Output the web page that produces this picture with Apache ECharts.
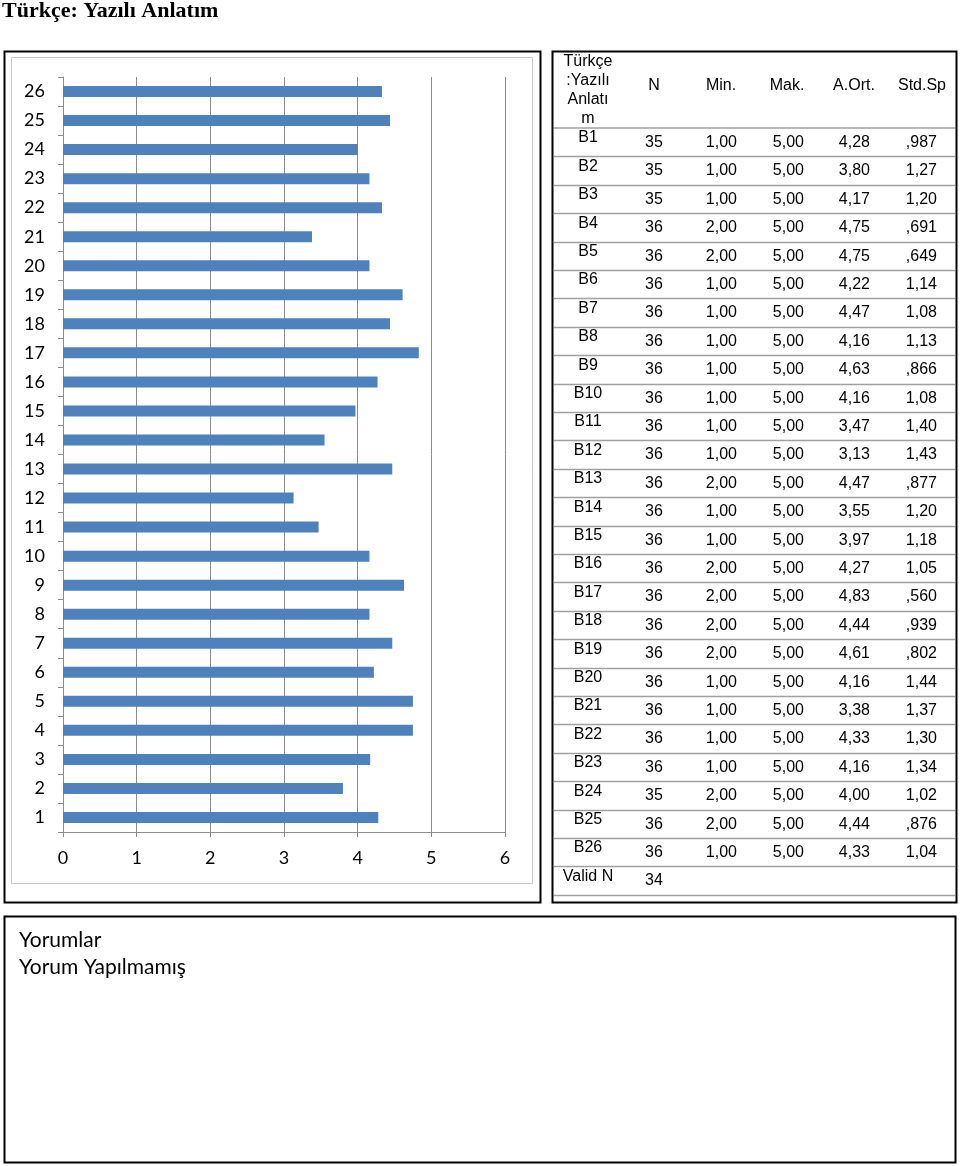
<!DOCTYPE html>
<html>
<head>
<meta charset="utf-8">
<script src="https://cdn.jsdelivr.net/npm/echarts@6/dist/echarts.min.js"></script>
<style>
html,body{margin:0;padding:0;background:#fff;}
#c{width:960px;height:1166px;}
</style>
</head>
<body>
<div id="c"></div>
<script>
const categories = ['1','2','3','4','5','6','7','8','9','10','11','12','13','14','15','16','17','18','19','20','21','22','23','24','25','26'];
const means = [4.28,3.80,4.17,4.75,4.75,4.22,4.47,4.16,4.63,4.16,3.47,3.13,4.47,3.55,3.97,4.27,4.83,4.44,4.61,4.16,3.38,4.33,4.16,4.00,4.44,4.33];
const xTicks = [0,1,2,3,4,5,6];
const rowLabels = ['B1','B2','B3','B4','B5','B6','B7','B8','B9','B10','B11','B12','B13','B14','B15','B16','B17','B18','B19','B20','B21','B22','B23','B24','B25','B26'];
const nValues = [35,35,35,36,36,36,36,36,36,36,36,36,36,36,36,36,36,36,36,36,36,36,36,35,36,36];
const minValues = ['1,00','1,00','1,00','2,00','2,00','1,00','1,00','1,00','1,00','1,00','1,00','1,00','2,00','1,00','1,00','2,00','2,00','2,00','2,00','1,00','1,00','1,00','1,00','2,00','2,00','1,00'];
const maxValues = ['5,00','5,00','5,00','5,00','5,00','5,00','5,00','5,00','5,00','5,00','5,00','5,00','5,00','5,00','5,00','5,00','5,00','5,00','5,00','5,00','5,00','5,00','5,00','5,00','5,00','5,00'];
const meanLabels = ['4,28','3,80','4,17','4,75','4,75','4,22','4,47','4,16','4,63','4,16','3,47','3,13','4,47','3,55','3,97','4,27','4,83','4,44','4,61','4,16','3,38','4,33','4,16','4,00','4,44','4,33'];
const sdLabels = [',987','1,27','1,20',',691',',649','1,14','1,08','1,13',',866','1,08','1,40','1,43',',877','1,20','1,18','1,05',',560',',939',',802','1,44','1,37','1,30','1,34','1,02',',876','1,04'];
const headerCols = ['N','Min.','Mak.','A.Ort.','Std.Sp'];
const headerFirst = ['Türkçe',':Yazılı','Anlatı','m'];
const validN = 34;
const titleText = 'Türkçe: Yazılı Anlatım';
const commentLines = ['Yorumlar','Yorum Yapılmamış'];

const chart = echarts.init(document.getElementById('c'), null, {renderer:'canvas'});
const G = [];
const tf = '"Liberation Sans", Arial, sans-serif';
const cf = 'Lato, "Open Sans", sans-serif';
const tfs = '16px ' + tf;

// title
G.push({type:'text', left:2, top:0, style:{text:titleText, font:'bold 22px "Liberation Serif", "Times New Roman", serif', fill:'#000'}});
// chart box
G.push({type:'rect', shape:{x:4.5,y:51.5,width:536,height:851}, style:{fill:'none', stroke:'#000', lineWidth:2}});
G.push({type:'rect', shape:{x:11.5,y:57.5,width:521,height:826}, style:{fill:'none', stroke:'#c8c8c8', lineWidth:1}});
// table box
G.push({type:'rect', shape:{x:552.5,y:51.5,width:404,height:851}, style:{fill:'none', stroke:'#000', lineWidth:2}});
// comments box
G.push({type:'rect', shape:{x:4.5,y:916.5,width:951,height:246}, style:{fill:'none', stroke:'#000', lineWidth:2}});
commentLines.forEach((t,i)=>{
  G.push({type:'text', x:19, y:940+i*27, style:{text:t, font:'21px '+cf, fill:'#000', textVerticalAlign:'middle'}});
});

// table
const rowTop0 = 128, rowH = 28.4;
const colX = {label:588, n:645, min:737, max:804, mean:870, sd:937};
const headerX = [654,721,787,854,922];
headerFirst.forEach((t,i)=>{
  G.push({type:'text', x:colX.label, y:62+i*18.7, style:{text:t, font:tfs, fill:'#000', textAlign:'center', textVerticalAlign:'middle'}});
});
headerCols.forEach((t,i)=>{
  G.push({type:'text', x:headerX[i], y:86, style:{text:t, font:tfs, fill:'#000', textAlign:'center', textVerticalAlign:'middle'}});
});
function hline(y){
  G.push({type:'line', shape:{x1:554,y1:y,x2:955,y2:y}, style:{stroke:'#a0a0a0', lineWidth:1.5}});
}
hline(rowTop0);
rowLabels.forEach((lab,i)=>{
  const top = rowTop0 + i*rowH;
  G.push({type:'text', x:colX.label, y:top+10, style:{text:lab, font:tfs, fill:'#000', textAlign:'center', textVerticalAlign:'middle'}});
  const yy = top+14.5;
  G.push({type:'text', x:colX.n, y:yy, style:{text:String(nValues[i]), font:tfs, fill:'#000', textAlign:'left', textVerticalAlign:'middle'}});
  G.push({type:'text', x:colX.min, y:yy, style:{text:minValues[i], font:tfs, fill:'#000', textAlign:'right', textVerticalAlign:'middle'}});
  G.push({type:'text', x:colX.max, y:yy, style:{text:maxValues[i], font:tfs, fill:'#000', textAlign:'right', textVerticalAlign:'middle'}});
  G.push({type:'text', x:colX.mean, y:yy, style:{text:meanLabels[i], font:tfs, fill:'#000', textAlign:'right', textVerticalAlign:'middle'}});
  G.push({type:'text', x:colX.sd, y:yy, style:{text:sdLabels[i], font:tfs, fill:'#000', textAlign:'right', textVerticalAlign:'middle'}});
  hline(Math.round(top+rowH)+0.5);
});
const vTop = rowTop0 + rowLabels.length*rowH;
G.push({type:'text', x:colX.label, y:vTop+10, style:{text:'Valid N', font:tfs, fill:'#000', textAlign:'center', textVerticalAlign:'middle'}});
G.push({type:'text', x:colX.n, y:vTop+14.5, style:{text:String(validN), font:tfs, fill:'#000', textAlign:'left', textVerticalAlign:'middle'}});
hline(895.5);

const option = {
  animation:false,
  backgroundColor:'#fff',
  grid:{left:63, right:455, top:77, bottom:334, containLabel:false},
  xAxis:{
    type:'value', min:0, max:6, interval:1,
    axisLine:{show:true, lineStyle:{color:'#8c8c8c', width:1}},
    axisTick:{show:true, length:5, lineStyle:{color:'#8c8c8c'}},
    splitLine:{show:true, lineStyle:{color:'#8c8c8c', width:1}},
    axisLabel:{color:'#000', fontFamily:cf, fontSize:18, margin:17, formatter:(v)=>String(v)},
    data: xTicks
  },
  yAxis:{
    type:'category', data:categories,
    axisLine:{show:true, lineStyle:{color:'#8c8c8c', width:1}},
    axisTick:{show:true, length:5, lineStyle:{color:'#8c8c8c'}},
    axisLabel:{color:'#000', fontFamily:cf, fontSize:18, margin:18}
  },
  series:[{
    type:'bar', data:means, barWidth:11,
    itemStyle:{color:'#4f81bd'}
  }],
  graphic:G
};
chart.setOption(option);
</script>
</body>
</html>
